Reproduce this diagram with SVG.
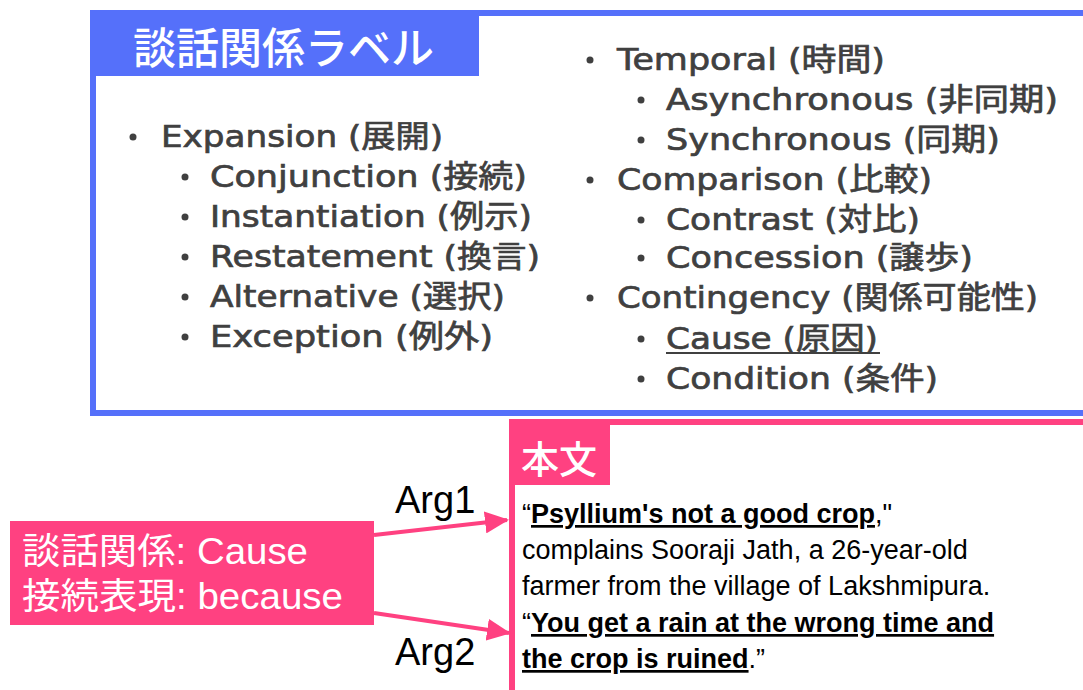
<svg xmlns="http://www.w3.org/2000/svg" width="1083" height="690" viewBox="0 0 1083 690">
<style>
.li{font-family:"DejaVu Sans","Noto Sans CJK JP",sans-serif;font-size:31px;fill:#404040;stroke:#404040;stroke-width:0.7}
.wt{font-family:"Noto Sans CJK JP","Noto Sans",sans-serif;fill:#fff}
.body{font-family:"Liberation Sans",Arial,sans-serif;font-size:27px;fill:#000}
.b{font-weight:bold;text-decoration:underline}
.arg{font-family:"Liberation Sans",Arial,sans-serif;font-size:38px;fill:#000}
.con{stroke:#FF4181;stroke-width:4;fill:none}
</style>
<defs>
<marker id="ah" viewBox="0 0 24 22" refX="22" refY="11" markerWidth="24" markerHeight="22" markerUnits="userSpaceOnUse" orient="auto">
<path d="M0,0 L24,11 L0,22 z" fill="#FF4181"/>
</marker>
</defs>
<rect width="1083" height="690" fill="#fff"/>
<g id="labels-panel">
<rect x="93" y="13" width="1000" height="400" fill="none" stroke="#5570FA" stroke-width="6"/>
<rect x="90" y="10" width="389" height="66" fill="#5570FA"/>
<text class="wt" x="133" y="64" font-size="43" font-weight="500">談話関係ラベル</text>
<g class="li">
<text x="161" y="147" textLength="282" lengthAdjust="spacingAndGlyphs">Expansion (展開)</text>
<text x="210" y="187" textLength="317" lengthAdjust="spacingAndGlyphs">Conjunction (接続)</text>
<text x="210" y="227" textLength="322" lengthAdjust="spacingAndGlyphs">Instantiation (例示)</text>
<text x="210" y="267" textLength="330" lengthAdjust="spacingAndGlyphs">Restatement (換言)</text>
<text x="210" y="307" textLength="295" lengthAdjust="spacingAndGlyphs">Alternative (選択)</text>
<text x="210" y="347" textLength="283" lengthAdjust="spacingAndGlyphs">Exception (例外)</text>
<text x="617" y="70" textLength="268" lengthAdjust="spacingAndGlyphs">Temporal (時間)</text>
<text x="666" y="110" textLength="392" lengthAdjust="spacingAndGlyphs">Asynchronous (非同期)</text>
<text x="666" y="150" textLength="334" lengthAdjust="spacingAndGlyphs">Synchronous (同期)</text>
<text x="617" y="190" textLength="315" lengthAdjust="spacingAndGlyphs">Comparison (比較)</text>
<text x="666" y="230" textLength="254" lengthAdjust="spacingAndGlyphs">Contrast (対比)</text>
<text x="666" y="268" textLength="307" lengthAdjust="spacingAndGlyphs">Concession (譲歩)</text>
<text x="617" y="308" textLength="421" lengthAdjust="spacingAndGlyphs">Contingency (関係可能性)</text>
<text x="666" y="349" textLength="212" lengthAdjust="spacingAndGlyphs">Cause (原因)</text>
<text x="666" y="389" textLength="272" lengthAdjust="spacingAndGlyphs">Condition (条件)</text>
</g>
<line x1="666" y1="353" x2="880" y2="353" stroke="#404040" stroke-width="2"/>
<g fill="#404040">
<circle cx="133" cy="137" r="3.5"/>
<circle cx="185" cy="177" r="3.5"/>
<circle cx="185" cy="217" r="3.5"/>
<circle cx="185" cy="257" r="3.5"/>
<circle cx="185" cy="297" r="3.5"/>
<circle cx="185" cy="337" r="3.5"/>
<circle cx="590" cy="60" r="3.5"/>
<circle cx="641" cy="100" r="3.5"/>
<circle cx="641" cy="140" r="3.5"/>
<circle cx="590" cy="180" r="3.5"/>
<circle cx="641" cy="220" r="3.5"/>
<circle cx="641" cy="258" r="3.5"/>
<circle cx="590" cy="298" r="3.5"/>
<circle cx="641" cy="339" r="3.5"/>
<circle cx="641" cy="379" r="3.5"/>
</g>
</g>
<g id="text-panel">
<rect x="512" y="422" width="600" height="300" fill="#fff" stroke="#FF4181" stroke-width="6"/>
<rect x="509" y="419" width="101" height="66" fill="#FF4181"/>
<text class="wt" x="521" y="473" font-size="38" font-weight="500">本文</text>
<text class="body" x="522" y="523">“<tspan class="b">Psyllium's not a good crop</tspan>,"</text>
<text class="body" x="522" y="559">complains Sooraji Jath, a 26-year-old</text>
<text class="body" x="522" y="595">farmer from the village of Lakshmipura.</text>
<text class="body" x="522" y="632">“<tspan class="b">You get a rain at the wrong time and</tspan></text>
<text class="body" x="522" y="668"><tspan class="b">the crop is ruined</tspan>.”</text>
</g>
<g id="relation-box">
<rect x="10" y="521" width="364" height="104" fill="#FF4181"/>
<text class="wt" x="22" y="564" font-size="36" textLength="286" lengthAdjust="spacingAndGlyphs">談話関係<tspan font-family="Liberation Sans,Arial,sans-serif">: Cause</tspan></text>
<text class="wt" x="22" y="609" font-size="36" textLength="321" lengthAdjust="spacingAndGlyphs">接続表現<tspan font-family="Liberation Sans,Arial,sans-serif">: because</tspan></text>
</g>
<g id="connectors">
<line class="con" x1="374" y1="535" x2="507" y2="520" marker-end="url(#ah)"/>
<line class="con" x1="374" y1="613" x2="509" y2="633" marker-end="url(#ah)"/>
<text class="arg" x="395" y="513">Arg1</text>
<text class="arg" x="395" y="665">Arg2</text>
</g>
</svg>
